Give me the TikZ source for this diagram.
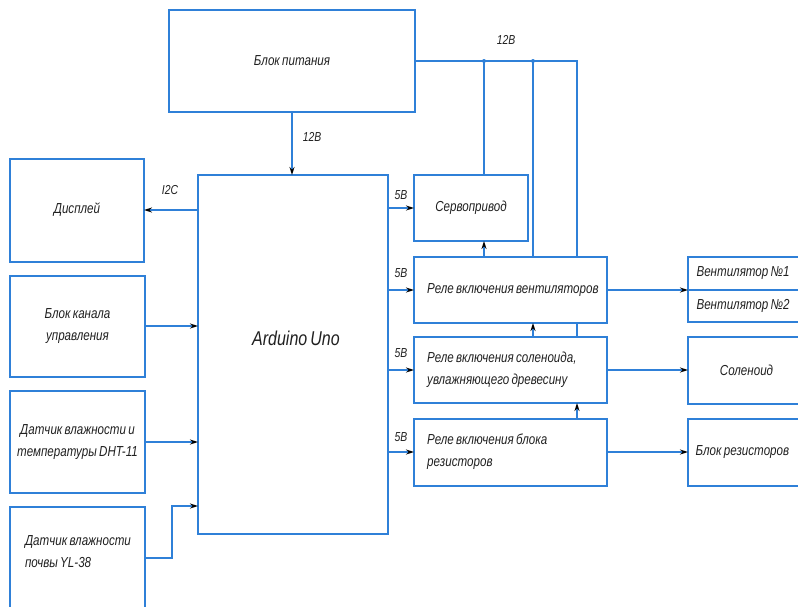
\documentclass[tikz,border=0pt]{standalone}
\usepackage{fontspec}
\setmainfont{Liberation Sans}[FakeStretch=0.8, WordSpace=0.7]
\usepackage{tikz}
\usetikzlibrary{arrows.meta}
\definecolor{wireColor}{HTML}{2F80D8}
\definecolor{textColor}{HTML}{202020}

\begin{document}
\begin{tikzpicture}[x=1pt, y=-1pt,
    box/.style={draw=wireColor, line width=2pt, rectangle, inner sep=0pt, outer sep=0pt, text=textColor, font=\fontsize{14.5}{22}\selectfont\itshape},
    relay/.style={box, minimum width=193pt},
    relayText/.style={anchor=west, align=flush left, inner sep=0pt, text=textColor, font=\fontsize{14.5}{22}\selectfont\itshape},
    wire/.style={draw=wireColor, line width=2pt},
    feed/.style={wire, -{Stealth[length=8pt, width=5pt, color=black]}},
    tag/.style={text=textColor, font=\fontsize{13}{14}\selectfont\itshape}]
    \useasboundingbox (0,0) rectangle (798,606);

    \node[box, minimum width=246pt, minimum height=102pt] (power) at (292,61) {Блок питания};
    \node[box, minimum width=190pt, minimum height=359pt] (arduino) at (293,354.5) {};
    \node[text=textColor, font=\fontsize{20}{22}\selectfont\itshape] (arduinoText) at (296,338) {Arduino Uno};

    \node[box, minimum width=134pt, minimum height=103pt] (display) at (77,210) {Дисплей};
    \node[box, minimum width=135pt, minimum height=101pt, align=center] (control) at (77.5,326) {Блок канала\\управления};
    \node[box, minimum width=135pt, minimum height=102pt, align=center] (dht) at (77.5,442) {Датчик влажности и\\температуры DHT-11};
    \node[box, minimum width=135pt, minimum height=113pt] (soil) at (77.5,563.5) {};
    \node[text=textColor, font=\fontsize{14.5}{22}\selectfont\itshape, align=left] (soilText) at (78,552) {Датчик влажности\\почвы YL-38};

    \node[box, minimum width=114pt, minimum height=66pt] (servo) at (471,208) {Сервопривод};
    \node[relay, minimum height=66pt] (fanRelay) at (510.5,290) {};
    \node[relay, minimum height=66pt] (solRelay) at (510.5,370) {};
    \node[relay, minimum height=67pt] (resRelay) at (510.5,452) {};
    \node[relayText] (fanRelayText) at ([xshift=13pt]fanRelay.west) {Реле включения вентиляторов};
    \node[relayText] (solRelayText) at ([xshift=13pt]solRelay.west) {Реле включения соленоида,\\увлажняющего древесину};
    \node[relayText] (resRelayText) at ([xshift=13pt]resRelay.west) {Реле включения блока\\резисторов};

    \node[box, minimum width=117pt, minimum height=65pt] (fans) at (746.5,289.5) {};
    \draw[wire] (fans.west) -- (fans.east);
    \node[tag, font=\fontsize{14.5}{16}\selectfont\itshape, anchor=west] (fanOne) at (693,273) {Вентилятор №1};
    \node[tag, font=\fontsize{14.5}{16}\selectfont\itshape, anchor=west] (fanTwo) at (693,306) {Вентилятор №2};
    \node[box, minimum width=117pt, minimum height=67pt] (solenoid) at (746.5,370.5) {Соленоид};
    \node[box, minimum width=117pt, minimum height=67pt] (resistors) at (746.5,452.5) {};
    \node[tag, font=\fontsize{14.5}{16}\selectfont\itshape, anchor=west] (resistorsText) at (692,452) {Блок резисторов};

    % power lines
    \coordinate (tapA) at (484,61);
    \coordinate (tapB) at (533,61);
    \coordinate (tapC) at (577,61);
    \draw[feed] (power.south) -- (power.south |- arduino.north);
    \draw[wire] (power.east) -- (tapC) -- (tapC |- fanRelay.north);
    \draw[wire] (tapA) -- (tapA |- servo.north);
    \draw[wire] (tapB) -- (tapB |- fanRelay.north);
    \fill[wireColor] (tapA) circle (2pt) (tapB) circle (2pt);
    \draw[feed] (tapA |- fanRelay.north) -- (tapA |- servo.south);
    \draw[feed] (tapB |- solRelay.north) -- (tapB |- fanRelay.south);
    \draw[wire] (tapC |- fanRelay.south) -- (tapC |- solRelay.north);
    \draw[feed] (tapC |- resRelay.north) -- (tapC |- solRelay.south);

    % arduino outputs
    \draw[feed] (arduino.east |- servo) -- (servo.west);
    \draw[feed] (arduino.east |- fanRelay) -- (fanRelay.west);
    \draw[feed] (arduino.east |- solRelay) -- (solRelay.west);
    \draw[feed] (arduino.east |- resRelay) -- (resRelay.west);
    \draw[feed] (fanRelay.east) -- (fanRelay.east -| fans.west);
    \draw[feed] (solRelay.east) -- (solRelay.east -| solenoid.west);
    \draw[feed] (resRelay.east) -- (resRelay.east -| resistors.west);

    % arduino inputs
    \draw[feed] (arduino.west |- display) -- (display.east);
    \draw[feed] (control.east) -- (control.east -| arduino.west);
    \draw[feed] (dht.east) -- (dht.east -| arduino.west);
    \coordinate (soilOut) at (145,558);
    \coordinate (soilIn) at (198,506);
    \draw[feed] (soilOut) -- ++(27,0) |- (soilIn);

    \node[tag] (busLabel) at (506,40) {12В};
    \node[tag] (powerLabel) at (312,137) {12В};
    \node[tag] (busLabelI) at (170,190) {I2C};
    \node[tag] (servoLabel) at (401,195) {5В};
    \node[tag] (fanLabel) at (401,273) {5В};
    \node[tag] (solLabel) at (401,353) {5В};
    \node[tag] (resLabel) at (401,437) {5В};
\end{tikzpicture}
\end{document}
